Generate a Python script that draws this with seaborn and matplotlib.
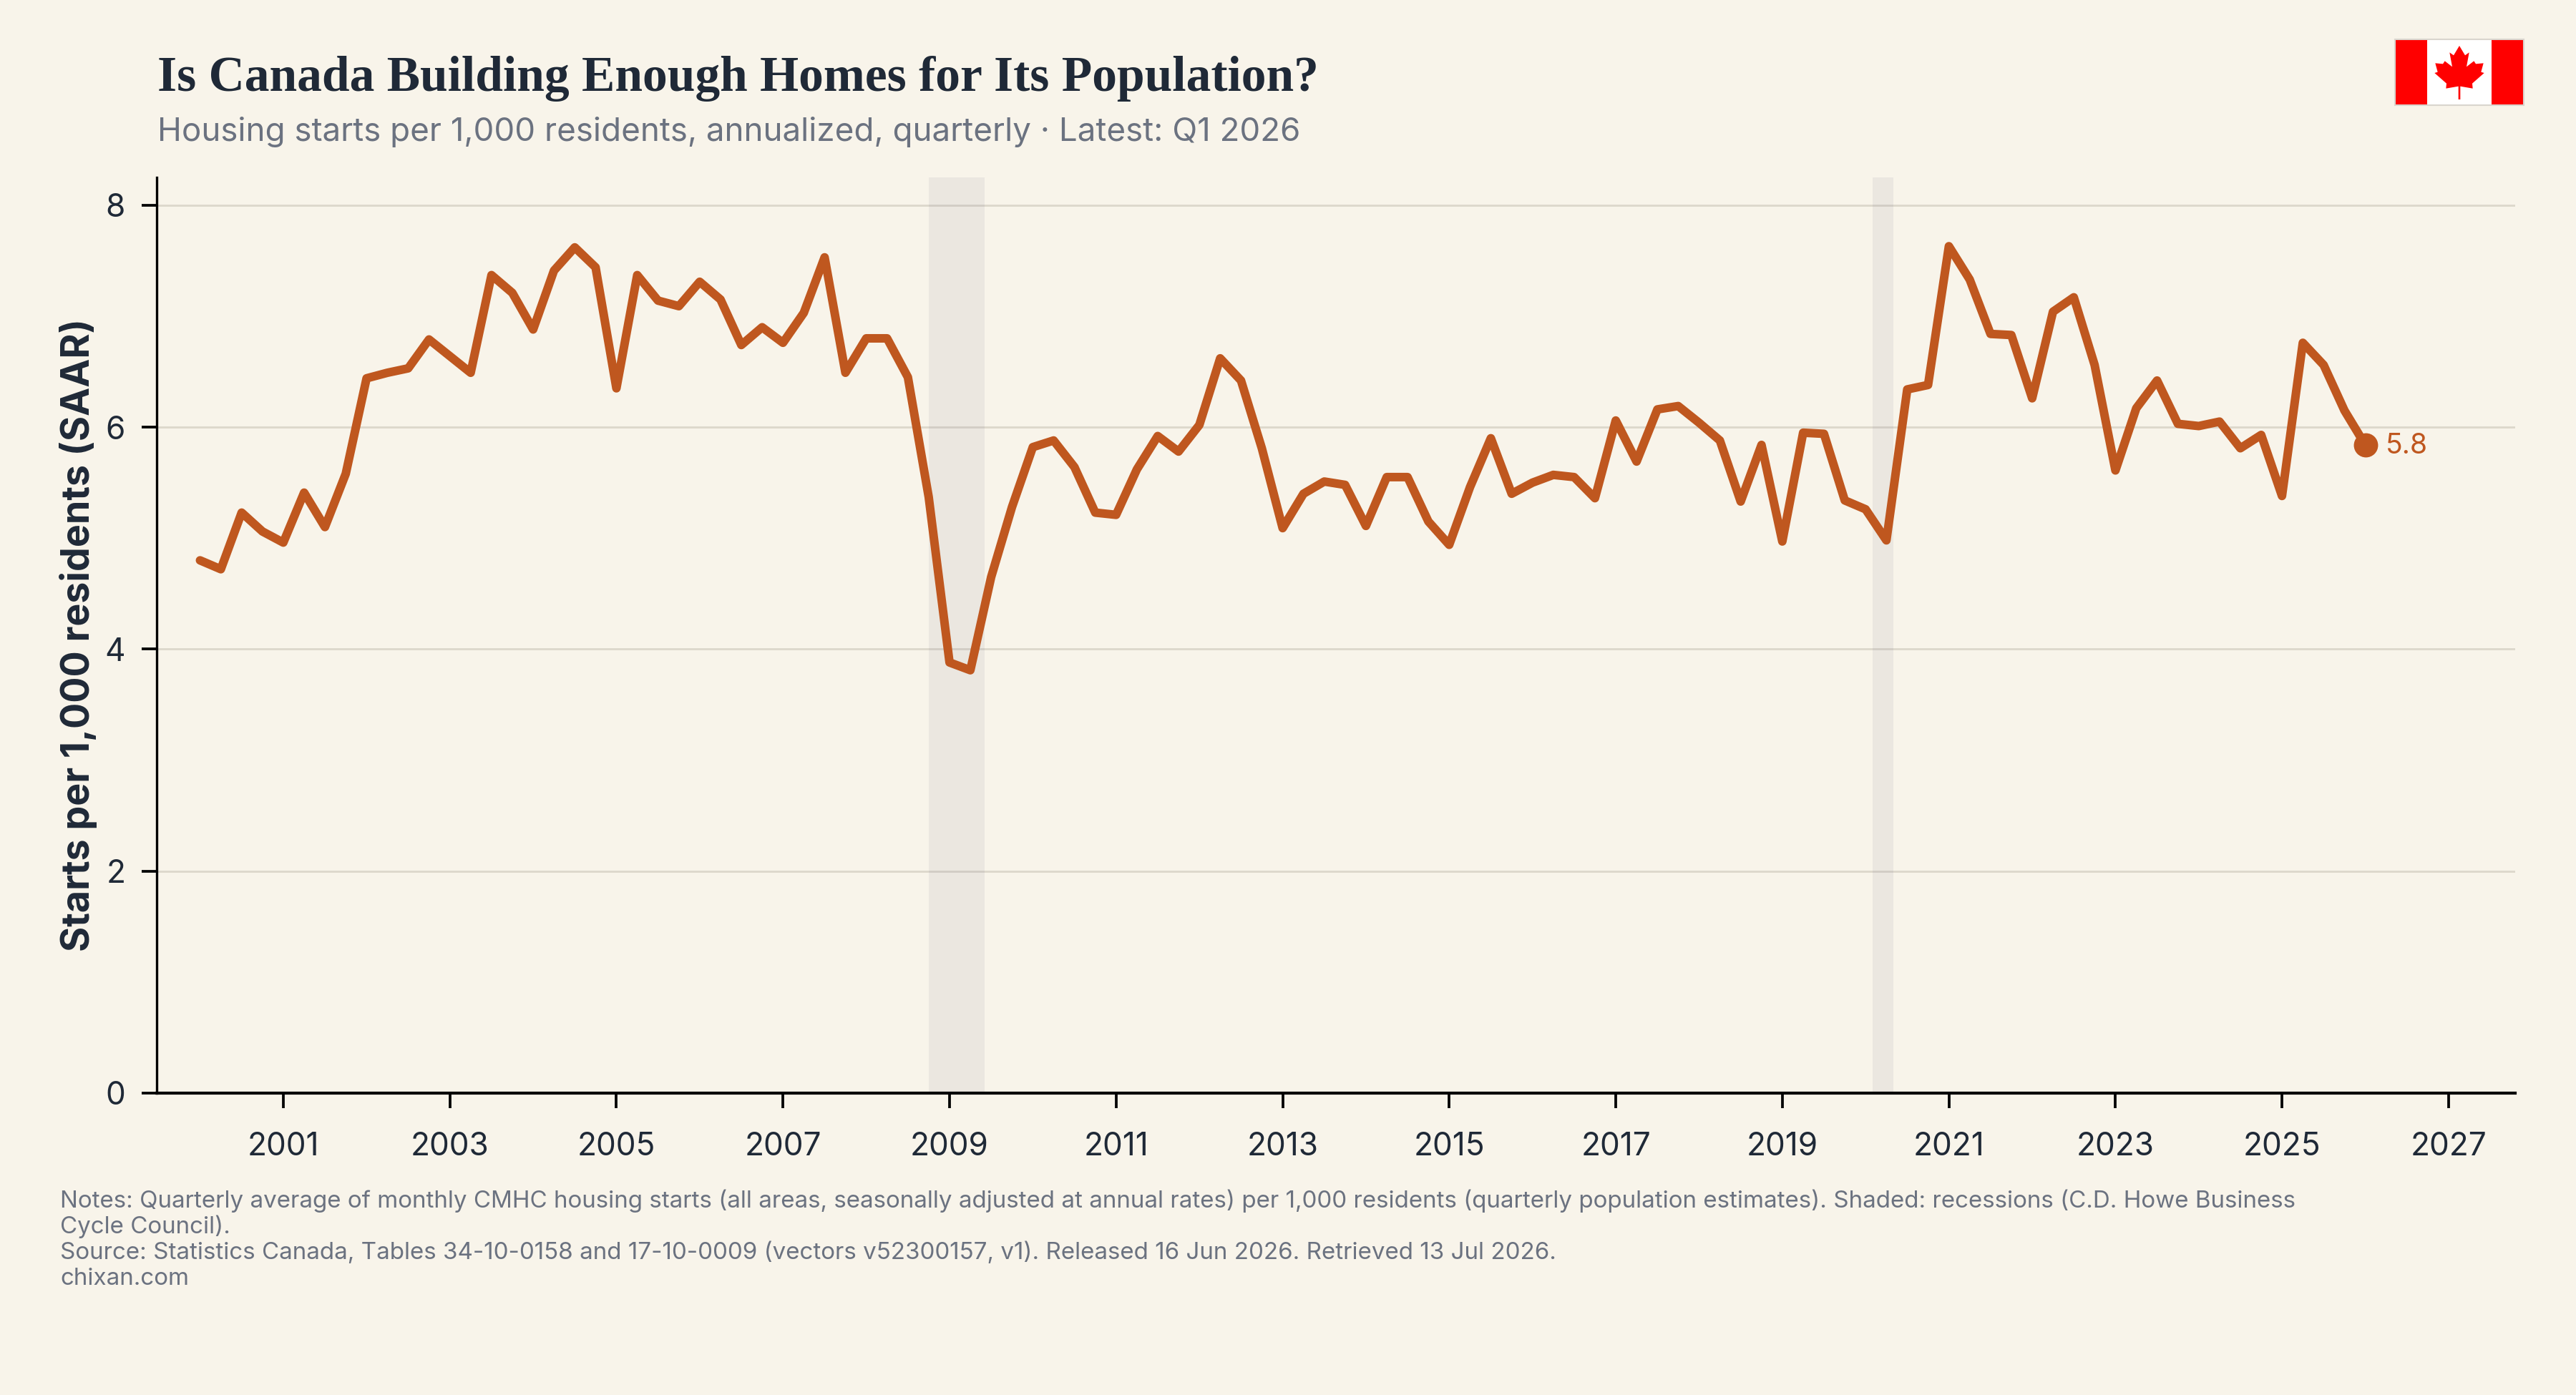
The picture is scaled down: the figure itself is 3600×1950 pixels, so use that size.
import numpy as np
import pandas as pd
import matplotlib
matplotlib.use("Agg")
import matplotlib.pyplot as plt
from matplotlib.patches import Polygon, Rectangle
import seaborn as sns

# Housing starts per 1,000 residents, one value per quarter from Q1 2000 to Q1 2026
starts_per_1000 = [
    4.80, 4.72, 5.23, 5.06, 4.96, 5.41, 5.10, 5.58,
    6.44, 6.49, 6.53, 6.79, 6.64, 6.49, 7.37, 7.21,
    6.88, 7.41, 7.62, 7.44, 6.35, 7.37, 7.14, 7.09,
    7.31, 7.15, 6.74, 6.90, 6.76, 7.03, 7.53, 6.49,
    6.80, 6.80, 6.45, 5.37, 3.88, 3.81, 4.65, 5.28,
    5.82, 5.88, 5.64, 5.23, 5.21, 5.62, 5.92, 5.78,
    6.02, 6.62, 6.42, 5.81, 5.09, 5.40, 5.51, 5.48,
    5.11, 5.55, 5.55, 5.15, 4.94, 5.46, 5.90, 5.40,
    5.50, 5.57, 5.55, 5.36, 6.06, 5.69, 6.16, 6.19,
    6.04, 5.88, 5.33, 5.84, 4.97, 5.95, 5.94, 5.34,
    5.26, 4.98, 6.34, 6.38, 7.63, 7.33, 6.84, 6.83,
    6.26, 7.04, 7.17, 6.56, 5.61, 6.17, 6.42, 6.03,
    6.01, 6.05, 5.81, 5.93, 5.38, 6.76, 6.56, 6.15, 5.84,
]
first_year = 2000
recessions = [(2008.75, 2009.42), (2020.08, 2020.33)]
y_ticks = [0, 2, 4, 6, 8]
x_ticks = list(range(2001, 2028, 2))

title = "Is Canada Building Enough Homes for Its Population?"
subtitle = "Housing starts per 1,000 residents, annualized, quarterly · Latest: Q1 2026"
y_label = "Starts per 1,000 residents (SAAR)"
notes = [
    "Notes: Quarterly average of monthly CMHC housing starts (all areas, seasonally adjusted at annual rates) per 1,000 residents (quarterly population estimates). Shaded: recessions (C.D. Howe Business",
    "Cycle Council).",
    "Source: Statistics Canada, Tables 34-10-0158 and 17-10-0009 (vectors v52300157, v1). Released 16 Jun 2026. Retrieved 13 Jul 2026.",
    "chixan.com",
]

BG = "#F8F4EA"
LINE = "#BF571F"
INK = "#1F2937"
MUTED = "#6B7280"
GRID = "#DDD8CC"
SHADE = "#6C6880"

sns.set_theme(style="ticks", rc={"figure.facecolor": BG, "axes.facecolor": BG})
plt.rcParams["font.family"] = ["Inter", "DejaVu Sans"]

W, H = 3600, 1950
fig = plt.figure(figsize=(W / 300, H / 300), dpi=300, facecolor=BG)
ax = fig.add_axes([219 / W, 1 - 1528 / H, (3515 - 219) / W, (1528 - 248) / H])

frame = pd.DataFrame({
    "year": first_year + np.arange(len(starts_per_1000)) * 0.25,
    "starts": starts_per_1000,
})

for start, end in recessions:
    ax.axvspan(start, end, color=SHADE, alpha=0.09, lw=0, zorder=2)
ax.set_axisbelow(True)
ax.grid(axis="y", color=GRID, lw=0.7, zorder=1)

sns.lineplot(data=frame, x="year", y="starts", ax=ax, color=LINE, lw=2.88,
             solid_joinstyle="round", solid_capstyle="round", zorder=3, errorbar=None)
last = frame.iloc[-1]
sns.scatterplot(x=[last.year], y=[last.starts], ax=ax, color=LINE, s=66, lw=0, zorder=4)
ax.annotate(f"{last.starts:.1f}", (last.year, last.starts), xytext=(6.8, -0.4),
            textcoords="offset points", va="center", ha="left", color=LINE, fontsize=9.4)

ax.set_xlim(1999.48, 2027.8)
ax.set_ylim(0, 8.25)
ax.set_xticks(x_ticks)
ax.set_yticks(y_ticks)
ax.tick_params(axis="both", color="black", labelcolor=INK, labelsize=10.6, length=5, width=0.9, pad=5.5)
ax.tick_params(axis="x", pad=8)
ax.set_xlabel("")
ax.set_ylabel("")
sns.despine(ax=ax)
ax.spines["left"].set_color("black")
ax.spines["left"].set_linewidth(0.8)
ax.spines["bottom"].set_color("black")
ax.spines["bottom"].set_linewidth(1.0)

fig.text(220 / W, 1 - 110 / H, title, family=["Liberation Serif"], weight="bold",
         fontsize=16.7, color=INK, ha="left", va="center")
fig.text(220 / W, 1 - 185 / H, subtitle, fontsize=10.98, color=MUTED, ha="left", va="center")
fig.text(110 / W, 1 - 888 / H, y_label, rotation=90, weight="bold", fontsize=12.9,
         color=INK, ha="center", va="center")
for text_line, y_px in zip(notes, [1679, 1715, 1751, 1788]):
    fig.text(84 / W, 1 - y_px / H, text_line, fontsize=7.96, color=MUTED, ha="left", va="center")

# Canadian flag in the top right corner, drawn on a 2:1 unit grid
flag = fig.add_axes([3347 / W, 1 - 147 / H, 180 / W, 92 / H])
flag.set_xlim(3347, 3527)
flag.set_ylim(147, 55)
flag.axis("off")
flag.add_patch(Rectangle((3347, 55), 180, 92, fc="white", ec="none"))
flag.add_patch(Rectangle((3347, 55), 45, 92, fc="#FF0000", ec="none"))
flag.add_patch(Rectangle((3482, 55), 45, 92, fc="#FF0000", ec="none"))
flag.add_patch(Rectangle((3347, 55), 180, 92, fc="none", ec="#D9D5CE", lw=0.5, clip_on=False))
leaf_half = [(711, 192), (735, 232), (752, 220), (741, 280), (772, 256), (780, 268),
             (812, 265), (802, 302), (815, 306), (765, 350), (767, 371), (715, 362), (715, 417)]
leaf_other = [(1422 - x, y) for x, y in reversed(leaf_half[1:])]
leaf = np.array(leaf_half + leaf_other, dtype=float)
leaf = np.column_stack([3200 + leaf[:, 0] / 3, leaf[:, 1] / 3])
flag.add_patch(Polygon(leaf, closed=True, fc="#FF0000", ec="none"))

fig.savefig("out.png", dpi=300, facecolor=BG)
